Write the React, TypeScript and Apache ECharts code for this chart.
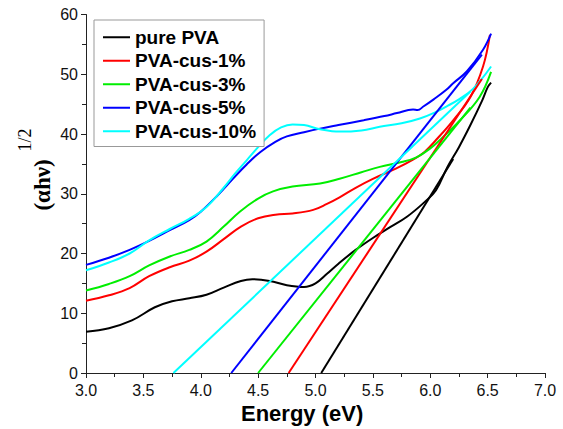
import React, { useEffect, useRef } from "react";
import * as echarts from "echarts";

const seriesNames = ["pure PVA", "PVA-cus-1%", "PVA-cus-3%", "PVA-cus-5%", "PVA-cus-10%"];
const seriesColors = ["#000000", "#ff0000", "#00ee00", "#0000ff", "#00ffff"];

const purePVA: number[][] = [
  [3.0, 6.9], [3.2, 7.5], [3.4, 8.8], [3.6, 11.0], [3.75, 12.0], [3.9, 12.5], [4.05, 13.1],
  [4.2, 14.3], [4.35, 15.4], [4.45, 15.7], [4.6, 15.4], [4.75, 14.7], [4.9, 14.4], [5.0, 15.0],
  [5.1, 16.6], [5.2, 18.3], [5.35, 20.6], [5.5, 22.6], [5.65, 24.4], [5.8, 26.2], [5.95, 28.6],
  [6.05, 30.6], [6.15, 34.5], [6.25, 37.8], [6.35, 41.5], [6.45, 45.5], [6.5, 47.8], [6.53, 48.6],
];
const cus1: number[][] = [
  [3.0, 12.1], [3.2, 13.0], [3.38, 14.2], [3.55, 16.2], [3.73, 17.7], [3.9, 18.8], [4.05, 20.3],
  [4.2, 22.4], [4.35, 24.5], [4.5, 25.9], [4.65, 26.5], [4.8, 26.7], [4.98, 27.3], [5.1, 28.3],
  [5.21, 29.4], [5.35, 31.0], [5.5, 32.5], [5.7, 34.2], [5.85, 35.7], [5.95, 37.0], [6.05, 39.0],
  [6.2, 42.3], [6.35, 46.2], [6.46, 51.3], [6.52, 56.6],
];
const cus3: number[][] = [
  [3.0, 13.8], [3.2, 14.9], [3.38, 16.2], [3.55, 18.0], [3.73, 19.5], [3.9, 20.6], [4.05, 22.0],
  [4.2, 24.5], [4.34, 27.0], [4.5, 29.2], [4.63, 30.4], [4.8, 31.2], [5.04, 31.7], [5.21, 32.5],
  [5.4, 33.6], [5.56, 34.5], [5.75, 35.3], [5.88, 36.1], [6.0, 37.6], [6.1, 39.3], [6.26, 42.3],
  [6.43, 46.2], [6.53, 50.4],
];
const cus5: number[][] = [
  [3.0, 18.1], [3.2, 19.3], [3.38, 20.6], [3.55, 22.1], [3.73, 23.9], [3.9, 25.6], [4.0, 27.0],
  [4.15, 29.8], [4.28, 32.5], [4.4, 34.9], [4.52, 37.0], [4.65, 38.7], [4.75, 39.6], [4.9, 40.3],
  [5.04, 40.9], [5.2, 41.5], [5.42, 42.3], [5.6, 43.0], [5.71, 43.5], [5.85, 44.1], [5.89, 44.0],
  [5.94, 44.6], [6.03, 45.8], [6.14, 47.4], [6.2, 48.5], [6.32, 50.5], [6.46, 54.1], [6.53, 56.8],
];
const cus10: number[][] = [
  [3.0, 17.2], [3.2, 18.5], [3.38, 20.0], [3.55, 22.2], [3.73, 24.1], [3.9, 25.8], [4.05, 27.8],
  [4.2, 31.0], [4.3, 33.4], [4.4, 35.6], [4.5, 37.8], [4.6, 39.8], [4.7, 41.1], [4.8, 41.6],
  [4.9, 41.5], [5.04, 40.8], [5.21, 40.4], [5.4, 40.6], [5.56, 41.2], [5.75, 41.8], [5.91, 42.6],
  [6.05, 43.7], [6.14, 44.6], [6.25, 45.8], [6.375, 47.6], [6.53, 51.3],
];

const tangentPure: number[][] = [[5.05, 0], [6.2, 35.8]];
const tangent1: number[][] = [[4.766, 0], [6.45, 49.2]];
const tangent3: number[][] = [[4.5, 0], [6.35, 44.4]];
const tangent5: number[][] = [[4.266, 0], [6.45, 53.3]];
const tangent10: number[][] = [[3.762, 0], [6.35, 47.1]];

const curves = [purePVA, cus1, cus3, cus5, cus10];
const tangents = [tangentPure, tangent1, tangent3, tangent5, tangent10];

const xTicks = { min: 3, max: 7, interval: 0.5 };
const yTicks = { min: 0, max: 60, interval: 10 };

export default function App() {
  const ref = useRef<HTMLDivElement>(null);
  useEffect(() => {
    if (!ref.current) return;
    const chart = echarts.init(ref.current, undefined, { renderer: "svg" });
    const sans = "Liberation Sans";
    const serif = "Liberation Serif";
    const series: any[] = [];
    curves.forEach((d, i) => {
      series.push({
        name: seriesNames[i],
        type: "line",
        data: d,
        smooth: 0.4,
        symbol: "none",
        lineStyle: { color: seriesColors[i], width: 2 },
        itemStyle: { color: seriesColors[i] },
      });
    });
    tangents.forEach((d, i) => {
      series.push({
        name: "tangent-" + i,
        type: "line",
        data: d,
        symbol: "none",
        lineStyle: { color: seriesColors[i], width: 2 },
        itemStyle: { color: seriesColors[i] },
      });
    });
    chart.setOption({
      animation: false,
      backgroundColor: "#ffffff",
      grid: { left: 86, right: 18, top: 14.5, bottom: 56, containLabel: false },
      legend: {
        data: seriesNames,
        orient: "vertical",
        left: 94,
        top: 20,
        icon: "rect",
        itemWidth: 27,
        itemHeight: 2,
        itemGap: 3,
        padding: [7, 8, 5, 9],
        borderColor: "#999999",
        borderWidth: 1,
        backgroundColor: "#ffffff",
        textStyle: { fontFamily: sans, fontWeight: "bold", fontSize: 19, color: "#000", lineHeight: 20.5 },
      },
      xAxis: {
        type: "value",
        min: xTicks.min,
        max: xTicks.max,
        interval: xTicks.interval,
        axisLine: { show: true, onZero: false, lineStyle: { color: "#222", width: 1 } },
        axisTick: { show: true, inside: false, length: 5, lineStyle: { color: "#222" } },
        minorTick: { show: true, splitNumber: 2, length: 4, lineStyle: { color: "#222" } },
        splitLine: { show: false },
        axisLabel: {
          formatter: (v: number) => v.toFixed(1),
          fontFamily: sans,
          fontSize: 16,
          color: "#111",
          margin: 9,
        },
      },
      yAxis: {
        type: "value",
        min: yTicks.min,
        max: yTicks.max,
        interval: yTicks.interval,
        axisLine: { show: true, onZero: false, lineStyle: { color: "#222", width: 1 } },
        axisTick: { show: true, inside: false, length: 5, lineStyle: { color: "#222" } },
        minorTick: { show: true, splitNumber: 2, length: 4, lineStyle: { color: "#222" } },
        splitLine: { show: false },
        axisLabel: { fontFamily: sans, fontSize: 16, color: "#111", margin: 8 },
      },
      graphic: [
        {
          type: "text",
          left: 241,
          top: 402,
          style: {
            text: "Energy (eV)",
            fontFamily: sans,
            fontWeight: "bold",
            fontSize: 22,
            fill: "#000",
          },
        },
        {
          type: "text",
          x: 42,
          y: 185,
          rotation: Math.PI / 2,
          style: {
            text: "(αhν)",
            fontFamily: serif,
            fontWeight: "bold",
            fontSize: 23,
            fill: "#000",
            align: "center",
            verticalAlign: "middle",
          },
        },
        {
          type: "text",
          x: 25,
          y: 140,
          rotation: Math.PI / 2,
          style: {
            text: "1/2",
            fontFamily: serif,
            fontSize: 18,
            fill: "#000",
            align: "center",
            verticalAlign: "middle",
          },
        },
      ],
      series,
    });
    return () => chart.dispose();
  }, []);
  return (
    <div
      ref={ref}
      style={{ position: "fixed", left: 0, top: 0, width: 563, height: 429, background: "#fff" }}
    />
  );
}
